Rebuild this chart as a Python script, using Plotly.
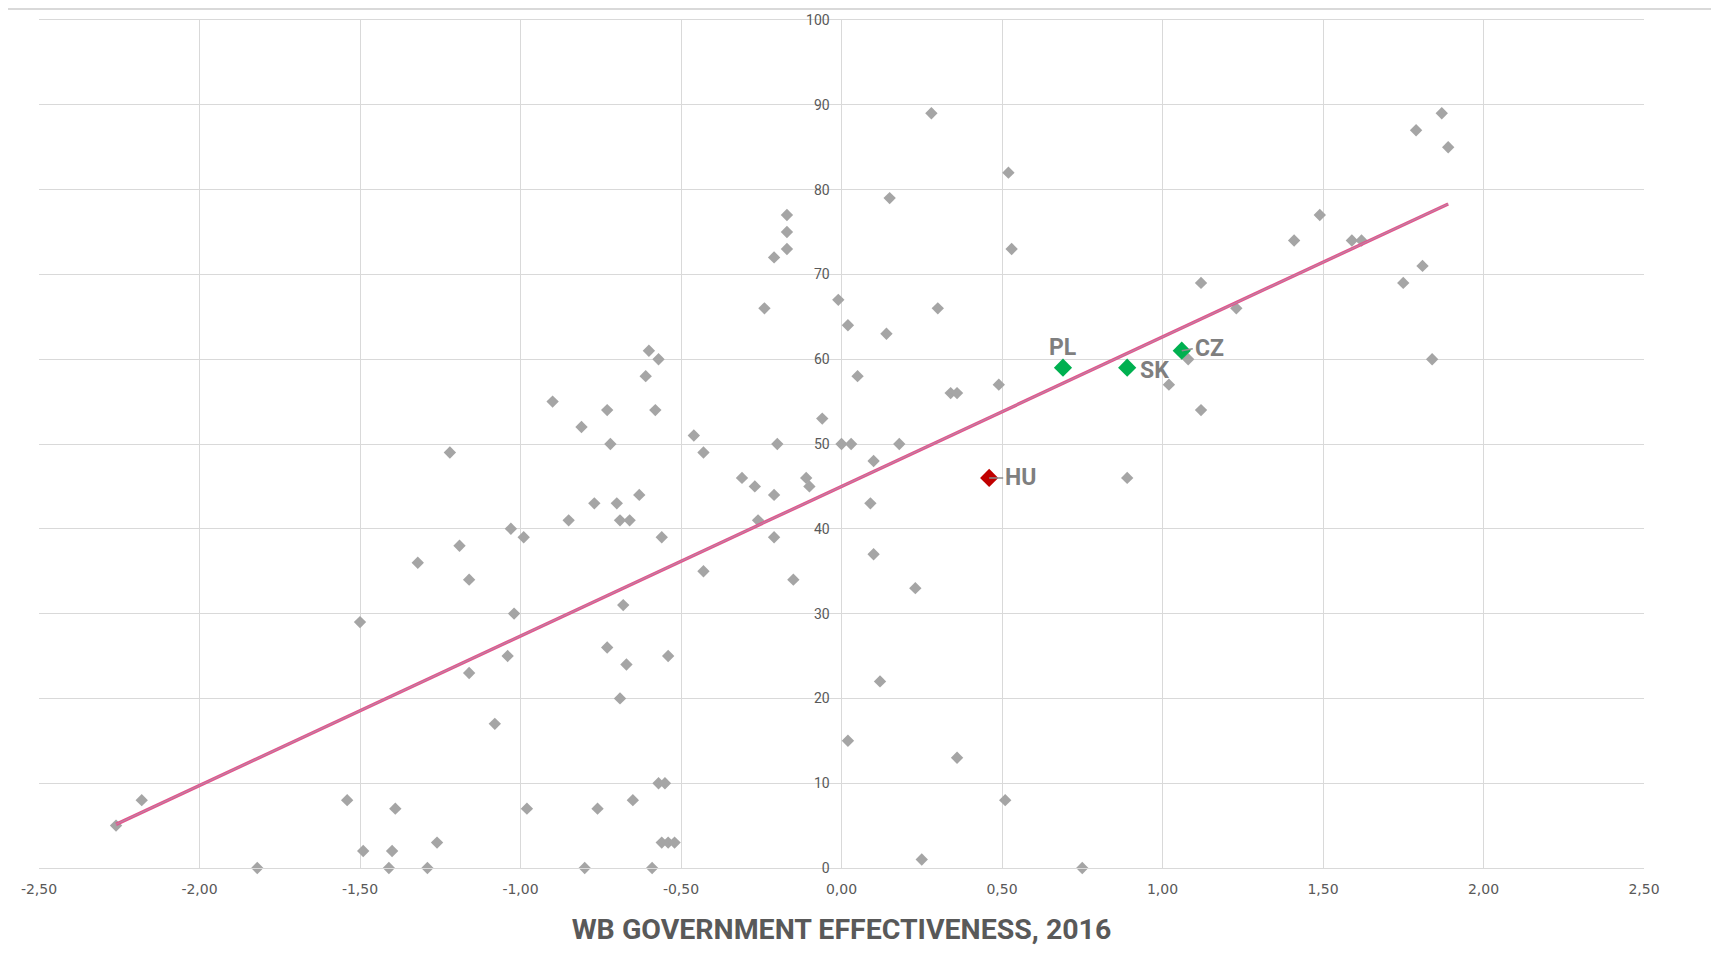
import numpy as np
import plotly.graph_objects as go

# ---- data ----
other_x = [-2.26, -2.18, -1.82, -1.54, -1.50, -1.49, -1.41, -1.40, -1.39, -1.32,
           -1.29, -1.26, -1.22, -1.19, -1.16, -1.16, -1.08, -1.04, -1.03, -1.02,
           -0.99, -0.98, -0.90, -0.85, -0.81, -0.80, -0.77, -0.76, -0.73, -0.73,
           -0.72, -0.70, -0.69, -0.69, -0.68, -0.67, -0.66, -0.65, -0.63, -0.61,
           -0.60, -0.59, -0.58, -0.57, -0.57, -0.56, -0.56, -0.55, -0.54, -0.54,
           -0.52, -0.46, -0.43, -0.43, -0.31, -0.27, -0.26, -0.24, -0.21, -0.21,
           -0.21, -0.20, -0.17, -0.17, -0.17, -0.15, -0.11, -0.10, -0.06, -0.01,
           0.00, 0.02, 0.02, 0.03, 0.05, 0.09, 0.10, 0.10, 0.12, 0.14,
           0.15, 0.18, 0.23, 0.25, 0.28, 0.30, 0.34, 0.36, 0.36, 0.49,
           0.51, 0.52, 0.53, 0.75, 0.89, 1.02, 1.08, 1.12, 1.12, 1.23,
           1.41, 1.49, 1.59, 1.62, 1.75, 1.79, 1.81, 1.84, 1.87, 1.89]
other_y = [5, 8, 0, 8, 29, 2, 0, 2, 7, 36,
           0, 3, 49, 38, 34, 23, 17, 25, 40, 30,
           39, 7, 55, 41, 52, 0, 43, 7, 54, 26,
           50, 43, 41, 20, 31, 24, 41, 8, 44, 58,
           61, 0, 54, 60, 10, 39, 3, 10, 25, 3,
           3, 51, 49, 35, 46, 45, 41, 66, 72, 44,
           39, 50, 77, 75, 73, 34, 46, 45, 53, 67,
           50, 64, 15, 50, 58, 43, 48, 37, 22, 63,
           79, 50, 33, 1, 89, 66, 56, 56, 13, 57,
           8, 82, 73, 0, 46, 57, 60, 69, 54, 66,
           74, 77, 74, 74, 69, 87, 71, 60, 89, 85]

v4_names = ["PL", "SK", "CZ"]
v4_x = [0.69, 0.89, 1.06]
v4_y = [59, 59, 61]

hu_name = "HU"
hu_x = [0.46]
hu_y = [46]

x_tick_vals = [-2.5, -2.0, -1.5, -1.0, -0.5, 0.0, 0.5, 1.0, 1.5, 2.0, 2.5]
x_tick_text = ["-2,50", "-2,00", "-1,50", "-1,00", "-0,50", "0,00",
               "0,50", "1,00", "1,50", "2,00", "2,50"]
y_tick_vals = [0, 10, 20, 30, 40, 50, 60, 70, 80, 90, 100]

x_title = "WB GOVERNMENT EFFECTIVENESS, 2016"

# ---- linear trend line (least squares over all countries) ----
all_x = np.array(other_x + v4_x + hu_x)
all_y = np.array(other_y + v4_y + hu_y)
slope, intercept = np.polyfit(all_x, all_y, 1)
trend_x = np.array([all_x.min(), all_x.max()])
trend_y = slope * trend_x + intercept

GRID = "#D9D9D9"
LABEL = "#7F7F7F"
COND = "Liberation Sans Narrow, Roboto, sans-serif"

W, H = 1711, 965
ML, MR, MT, MB = 31, 75, 12, 105
PW, PH = W - ML - MR, H - MT - MB

fig = go.Figure()

fig.add_trace(go.Scatter(
    x=other_x, y=other_y, mode="markers",
    marker=dict(symbol="diamond", size=9.5, color="#A5A5A5", line=dict(width=0)),
    cliponaxis=False, showlegend=False, hoverinfo="x+y"))

fig.add_trace(go.Scatter(
    x=trend_x, y=trend_y, mode="lines",
    line=dict(color="#E2568C", width=3.4), showlegend=False, hoverinfo="skip"))
fig.add_trace(go.Scatter(
    x=trend_x, y=trend_y, mode="lines",
    line=dict(color="#B58CAA", width=1.0), showlegend=False, hoverinfo="skip"))

fig.add_trace(go.Scatter(
    x=v4_x, y=v4_y, mode="markers",
    marker=dict(symbol="diamond", size=14, color="#00B050", line=dict(width=0)),
    showlegend=False, text=v4_names, hoverinfo="text+x+y"))
fig.add_trace(go.Scatter(
    x=hu_x, y=hu_y, mode="markers",
    marker=dict(symbol="diamond", size=14, color="#C00000", line=dict(width=0)),
    showlegend=False, text=[hu_name], hoverinfo="text+x+y"))

lab_font = dict(family=COND, size=23, color=LABEL, weight=700)

# PL above the point
fig.add_annotation(x=v4_x[0], y=v4_y[0], text=v4_names[0], showarrow=False,
                   xanchor="center", yanchor="bottom", yshift=5, font=lab_font)
# SK right of the point
fig.add_annotation(x=v4_x[1], y=v4_y[1], text=v4_names[1], showarrow=False,
                   xanchor="left", yanchor="middle", xshift=11, yshift=-3, font=lab_font)
# CZ with a leader line
fig.add_annotation(x=v4_x[2], y=v4_y[2], text=v4_names[2], showarrow=True,
                   ax=11, ay=-2, xanchor="left", yanchor="middle",
                   arrowhead=0, arrowwidth=1.5, arrowcolor="#8C8C8C", standoff=0,
                   font=lab_font)
# HU with a leader line
fig.add_annotation(x=hu_x[0], y=hu_y[0], text=hu_name, showarrow=True,
                   ax=14, ay=0, xanchor="left", yanchor="middle",
                   arrowhead=0, arrowwidth=1.5, arrowcolor="#8C8C8C", standoff=0,
                   font=lab_font)

# thin light line at the very top of the picture
fig.add_shape(type="line", xref="paper", yref="paper",
              x0=-ML / PW, x1=1 + MR / PW, y0=1 + (MT - 1) / PH, y1=1 + (MT - 1) / PH,
              line=dict(color="#D9D9D9", width=2))

fig.update_layout(
    width=W, height=H,
    margin=dict(l=ML, r=MR, t=MT, b=MB, autoexpand=False),
    paper_bgcolor="white", plot_bgcolor="white",
    showlegend=False,
    xaxis=dict(
        range=[-2.5, 2.5], tickvals=x_tick_vals, ticktext=x_tick_text,
        showgrid=True, gridcolor=GRID, gridwidth=1.3,
        zeroline=False, showline=True, mirror=True, linecolor=GRID, linewidth=1.3,
        ticks="outside", ticklen=8, tickcolor="rgba(0,0,0,0)",
        tickfont=dict(family="DejaVu Sans", size=14, color="#595959"),
        automargin=True,
        title=dict(text=x_title, standoff=23,
                   font=dict(family=COND, size=28.5, color="#595959", weight=700)),
    ),
    yaxis=dict(
        range=[0, 100], tickvals=y_tick_vals,
        anchor="free", position=0.5, automargin=False,
        showgrid=True, gridcolor=GRID, gridwidth=1.3,
        zeroline=False, showline=False,
        ticks="outside", ticklen=9, tickcolor="rgba(0,0,0,0)",
        tickfont=dict(family=COND, size=14, color="#595959"),
    ),
)

fig.write_html("out.html")
